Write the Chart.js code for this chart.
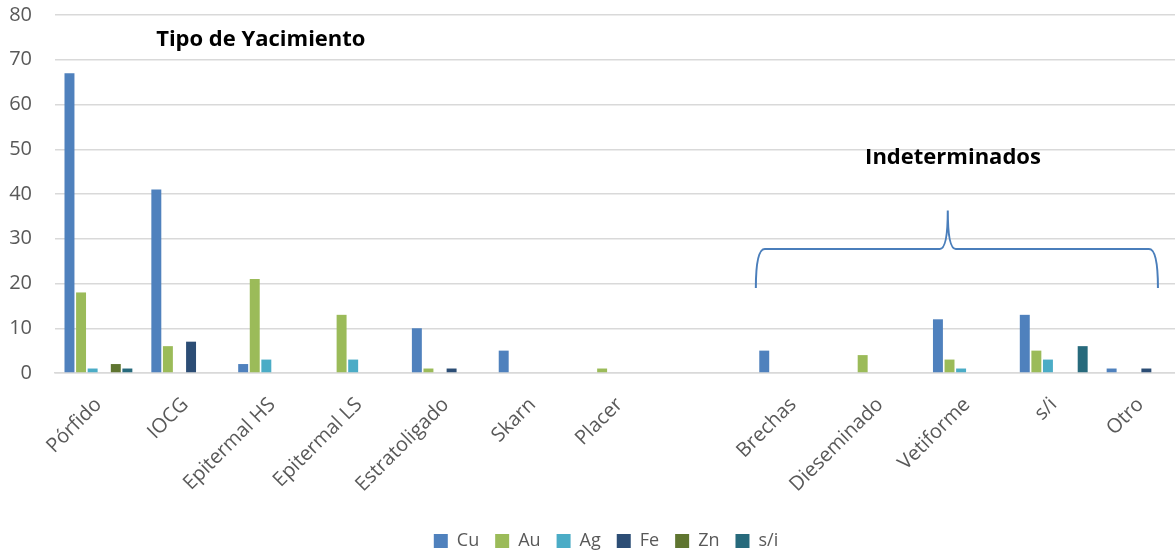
<!DOCTYPE html>
<html>
<head>
<meta charset="utf-8">
<script src="https://cdn.jsdelivr.net/npm/chart.js@4/dist/chart.umd.min.js"></script>
<style>
  html, body { margin: 0; padding: 0; background: #ffffff; overflow: hidden; }
  #wrap { width: 1175px; height: 552px; position: relative; overflow: hidden; }
  canvas { display: block; }
</style>
</head>
<body>
<div id="wrap"><canvas id="c" width="1184" height="560"></canvas></div>
<script>
const categories = ['Pórfido', 'IOCG', 'Epitermal HS', 'Epitermal LS', 'Estratoligado', 'Skarn', 'Placer', '', 'Brechas', 'Dieseminado', 'Vetiforme', 's/i', 'Otro'];
const seriesNames = ['Cu', 'Au', 'Ag', 'Fe', 'Zn', 's/i'];
const cu  = [67, 41, 2, 0, 10, 5, 0, null, 5, 0, 12, 13, 1];
const au  = [18, 6, 21, 13, 1, 0, 1, null, 0, 4, 3, 5, 0];
const ag  = [1, 0, 3, 3, 0, 0, 0, null, 0, 0, 1, 3, 0];
const fe  = [0, 7, 0, 0, 1, 0, 0, null, 0, 0, 0, 0, 1];
const zn  = [2, 0, 0, 0, 0, 0, 0, null, 0, 0, 0, 0, 0];
const si  = [1, 0, 0, 0, 0, 0, 0, null, 0, 0, 0, 6, 0];
const seriesColors = ['#4F81BD', '#9BBB59', '#4BACC6', '#2C4D75', '#5F7530', '#276A7C'];
const yTicks = [0, 10, 20, 30, 40, 50, 60, 70, 80];

const seriesValues = [cu, au, ag, fe, zn, si];
const FONT = "'Open Sans', 'DejaVu Sans', sans-serif";

const annotations = {
  id: 'annotations',
  afterLayout(chart) {
    // centre the legend under the same point as in the original figure
    if (chart.legend) { chart.legend.left += 14; chart.legend.right += 14; }
  },
  afterDraw(chart) {
    const ctx = chart.ctx;
    const x = chart.scales.x, y = chart.scales.y;
    ctx.save();
    ctx.fillStyle = '#000000';
    ctx.font = "bold 22px " + FONT;
    ctx.textAlign = 'center';
    ctx.textBaseline = 'middle';
    ctx.fillText('Tipo de Yacimiento', x.getPixelForValue(1.87), y.getPixelForValue(74.4));
    ctx.fillText('Indeterminados', x.getPixelForValue(9.84), y.getPixelForValue(48));

    // brace over the "indeterminados" group
    const xl = x.getPixelForValue(7.57), xp = x.getPixelForValue(9.78), xr = x.getPixelForValue(12.2);
    const yb = y.getPixelForValue(19), yt = y.getPixelForValue(27.7), ypk = y.getPixelForValue(36.3);
    ctx.strokeStyle = '#4A7EBB';
    ctx.lineWidth = 2;
    ctx.beginPath();
    ctx.moveTo(xl, yb);
    ctx.quadraticCurveTo(xl, yt, xl + 9, yt);
    ctx.lineTo(xp - 8, yt);
    ctx.quadraticCurveTo(xp, yt, xp, ypk);
    ctx.quadraticCurveTo(xp, yt, xp + 8, yt);
    ctx.lineTo(xr - 9, yt);
    ctx.quadraticCurveTo(xr, yt, xr, yb);
    ctx.stroke();
    ctx.restore();
  }
};

new Chart(document.getElementById('c'), {
  type: 'bar',
  data: {
    labels: categories,
    datasets: seriesNames.map((n, i) => ({
      label: n,
      data: seriesValues[i],
      backgroundColor: seriesColors[i],
      borderWidth: 0,
      categoryPercentage: 0.80,
      barPercentage: 0.86
    }))
  },
  options: {
    responsive: false,
    animation: false,
    layout: { padding: { top: 15, left: 0, right: 0, bottom: 0 } },
    plugins: {
      legend: {
        position: 'bottom',
        labels: {
          font: { family: FONT, size: 18 },
          color: '#595959',
          boxWidth: 14,
          boxHeight: 14,
          padding: 16
        }
      },
      tooltip: { enabled: false },
      title: { display: false }
    },
    scales: {
      x: {
        grid: { display: false },
        border: { display: true, color: '#D9D9D9', width: 1.5 },
        ticks: {
          minRotation: 45,
          maxRotation: 45,
          autoSkip: false,
          color: '#595959',
          font: { family: FONT, size: 20 },
          padding: 12
        },
        afterFit(axis) { axis.height = 143; }
      },
      y: {
        min: 0,
        max: 80,
        afterBuildTicks(axis) { axis.ticks = yTicks.map(v => ({ value: v })); },
        grid: { color: '#D9D9D9', lineWidth: 1.5, drawTicks: false },
        border: { display: false },
        ticks: {
          color: '#595959',
          font: { family: FONT, size: 20 },
          padding: 23
        },
        afterFit(axis) { axis.width = 55; axis.paddingTop = 0; axis.paddingBottom = 0; }
      }
    }
  },
  plugins: [annotations]
});
</script>
</body>
</html>
